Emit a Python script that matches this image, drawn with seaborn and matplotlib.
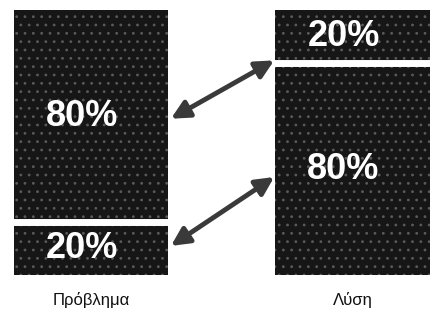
import matplotlib
matplotlib.use("Agg")
import matplotlib.pyplot as plt
import seaborn as sns
import pandas as pd

categories = ["Πρόβλημα", "Λύση"]
lower_values = [20, 80]
upper_values = [80, 20]
lower_labels = ["20%", "80%"]
upper_labels = ["80%", "20%"]
# arrows: (y on left bar, y on right bar)
arrow_left_y = [59, 11]
arrow_right_y = [81, 37]

sns.set_theme(style="white")
plt.rcParams["font.family"] = ["Liberation Sans", "DejaVu Sans"]
plt.rcParams["hatch.linewidth"] = 0.8

fig = plt.figure(figsize=(4.31, 3.24), dpi=100)
ax = fig.add_axes([0, 0.151, 1, 0.818])

totals = [l + u for l, u in zip(lower_values, upper_values)]
df_tot = pd.DataFrame({"cat": categories, "val": totals})
df_low = pd.DataFrame({"cat": categories, "val": lower_values})

bar_kw = dict(width=0.59, edgecolor="#5a5a5a", linewidth=0, hatch="..")
sns.barplot(data=df_tot, x="cat", y="val", color="#161616", saturation=1, ax=ax, **bar_kw)
sns.barplot(data=df_low, x="cat", y="val", color="#161616", saturation=1, ax=ax, **bar_kw)

# white gap between segments
for i, p in enumerate(ax.patches[:2]):
    x0 = p.get_x()
    x1 = x0 + p.get_width()
    ax.hlines(lower_values[i], x0 - 0.01, x1 + 0.01, color="white", lw=5, zorder=5)

# percentage labels
for i in range(len(categories)):
    ax.text(i - 0.035, lower_values[i] / 2, lower_labels[i], color="white",
            fontsize=26, fontweight="bold", ha="center", va="center", zorder=6)
    ax.text(i - 0.035, lower_values[i] + upper_values[i] / 2, upper_labels[i], color="white",
            fontsize=26, fontweight="bold", ha="center", va="center", zorder=6)

# double-headed arrows between bars
half = 0.59 / 2
for yl, yr in zip(arrow_left_y, arrow_right_y):
    ax.annotate("", xy=(1 - half - 0.005, yr), xytext=(0 + half + 0.01, yl),
                arrowprops=dict(arrowstyle="<|-|>,head_length=0.9,head_width=0.45",
                                color="#3a3a3a", lw=3.5, shrinkA=0, shrinkB=0),
                zorder=7)

ax.set_xlim(-0.349, 1.30)
ax.set_ylim(0, 100)
ax.set_xlabel("")
ax.set_ylabel("")
ax.set_yticks([])
ax.tick_params(axis="x", length=0, pad=12, labelsize=12, colors="#111111")
for lbl in ax.get_xticklabels():
    lbl.set_fontweight("medium")
for s in ax.spines.values():
    s.set_visible(False)

fig.savefig("out.png", dpi=100)
